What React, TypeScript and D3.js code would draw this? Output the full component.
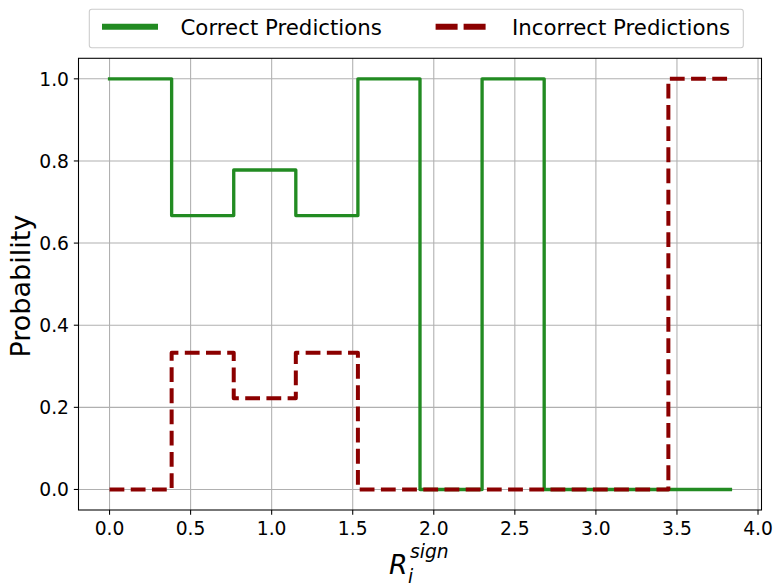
import React from "react";
import * as d3 from "d3";

const binEdges = [0, 0.383, 0.766, 1.149, 1.532, 1.915, 2.298, 2.681, 3.064, 3.447, 3.83];
const correctProb = [1, 0.667, 0.778, 0.667, 1, 0, 1, 0, 0, 0, 0];
const incorrectProb = [0, 0.333, 0.222, 0.333, 0, 0, 0, 0, 0, 1, 1];
const xTicks = [0, 0.5, 1, 1.5, 2, 2.5, 3, 3.5, 4];
const yTicks = [0, 0.2, 0.4, 0.6, 0.8, 1.0];
const legendLabels = ["Correct Predictions", "Incorrect Predictions"];

const W = 784;
const H = 588;
const L = 78.5, R = 761.5, T = 58.3, B = 510;
const FONT = "DejaVu Sans";
const GREEN = "#228b22";
const RED = "#8b0000";

export default function App() {
  const x = d3.scaleLinear().domain([-0.1915, 4.0215]).range([L, R]);
  const y = d3.scaleLinear().domain([-0.05, 1.05]).range([B, T]);
  const line = d3
    .line<[number, number]>()
    .x((d) => x(d[0]))
    .y((d) => y(d[1]))
    .curve(d3.curveStepAfter);
  const cData = binEdges.map((e, i) => [e, correctProb[i]] as [number, number]);
  const iData = binEdges.map((e, i) => [e, incorrectProb[i]] as [number, number]);
  const fmt = d3.format(".1f");

  return (
    <svg
      width={W}
      height={H}
      style={{ position: "absolute", left: 0, top: 0, background: "#fff" }}
      fontFamily={FONT}
    >
      <rect x={0} y={0} width={W} height={H} fill="#fff" />
      {/* grid */}
      <g stroke="#b0b0b0" strokeWidth={1.07}>
        {xTicks.map((t) => (
          <line key={"gx" + t} x1={x(t)} x2={x(t)} y1={T} y2={B} />
        ))}
        {yTicks.map((t) => (
          <line key={"gy" + t} x1={L} x2={R} y1={y(t)} y2={y(t)} />
        ))}
      </g>
      {/* lines */}
      <path
        d={line(cData) || ""}
        fill="none"
        stroke={GREEN}
        strokeWidth={3.33}
        strokeLinecap="square"
        strokeLinejoin="round"
      />
      <path
        d={line(iData) || ""}
        fill="none"
        stroke={RED}
        strokeWidth={4}
        strokeDasharray="14.8 6.4"
        strokeLinecap="butt"
        strokeLinejoin="round"
      />
      {/* spines */}
      <rect x={L} y={T} width={R - L} height={B - T} fill="none" stroke="#000" strokeWidth={1.07} />
      {/* x ticks */}
      {xTicks.map((t) => (
        <g key={"xt" + t}>
          <line x1={x(t)} x2={x(t)} y1={B} y2={B + 4.67} stroke="#000" strokeWidth={1.07} />
          <text x={x(t)} y={B + 25} textAnchor="middle" fontSize={18.7} fill="#000">
            {fmt(t)}
          </text>
        </g>
      ))}
      {/* y ticks */}
      {yTicks.map((t) => (
        <g key={"yt" + t}>
          <line x1={L - 4.67} x2={L} y1={y(t)} y2={y(t)} stroke="#000" strokeWidth={1.07} />
          <text x={L - 9.5} y={y(t) + 6.8} textAnchor="end" fontSize={18.7} fill="#000">
            {fmt(t)}
          </text>
        </g>
      ))}
      {/* y label */}
      <text
        transform={`translate(29.5,${(T + B) / 2 + 2}) rotate(-90)`}
        textAnchor="middle"
        fontSize={27}
        fill="#000"
      >
        Probability
      </text>
      {/* x label: R_i^{sign} */}
      <text fill="#000" fontStyle="italic">
        <tspan x={389} y={574} fontSize={26.7}>R</tspan>
        <tspan x={408} y={583} fontSize={18.7}>i</tspan>
        <tspan x={410} y={558} fontSize={18.7}>sign</tspan>
      </text>
      {/* legend */}
      <rect
        x={89.3}
        y={9.3}
        width={654}
        height={38.4}
        rx={2.5}
        fill="#fff"
        fillOpacity={0.8}
        stroke="#cccccc"
        strokeWidth={1.07}
      />
      <line x1={105} x2={155} y1={26.7} y2={26.7} stroke={GREEN} strokeWidth={6} strokeLinecap="square" />
      <text x={180.5} y={35} fontSize={21.3} fill="#000">
        {legendLabels[0]}
      </text>
      <line x1={435.6} x2={485.6} y1={26.7} y2={26.7} stroke={RED} strokeWidth={6} strokeDasharray="22 6" />
      <text x={512} y={35} fontSize={21.3} fill="#000">
        {legendLabels[1]}
      </text>
    </svg>
  );
}
